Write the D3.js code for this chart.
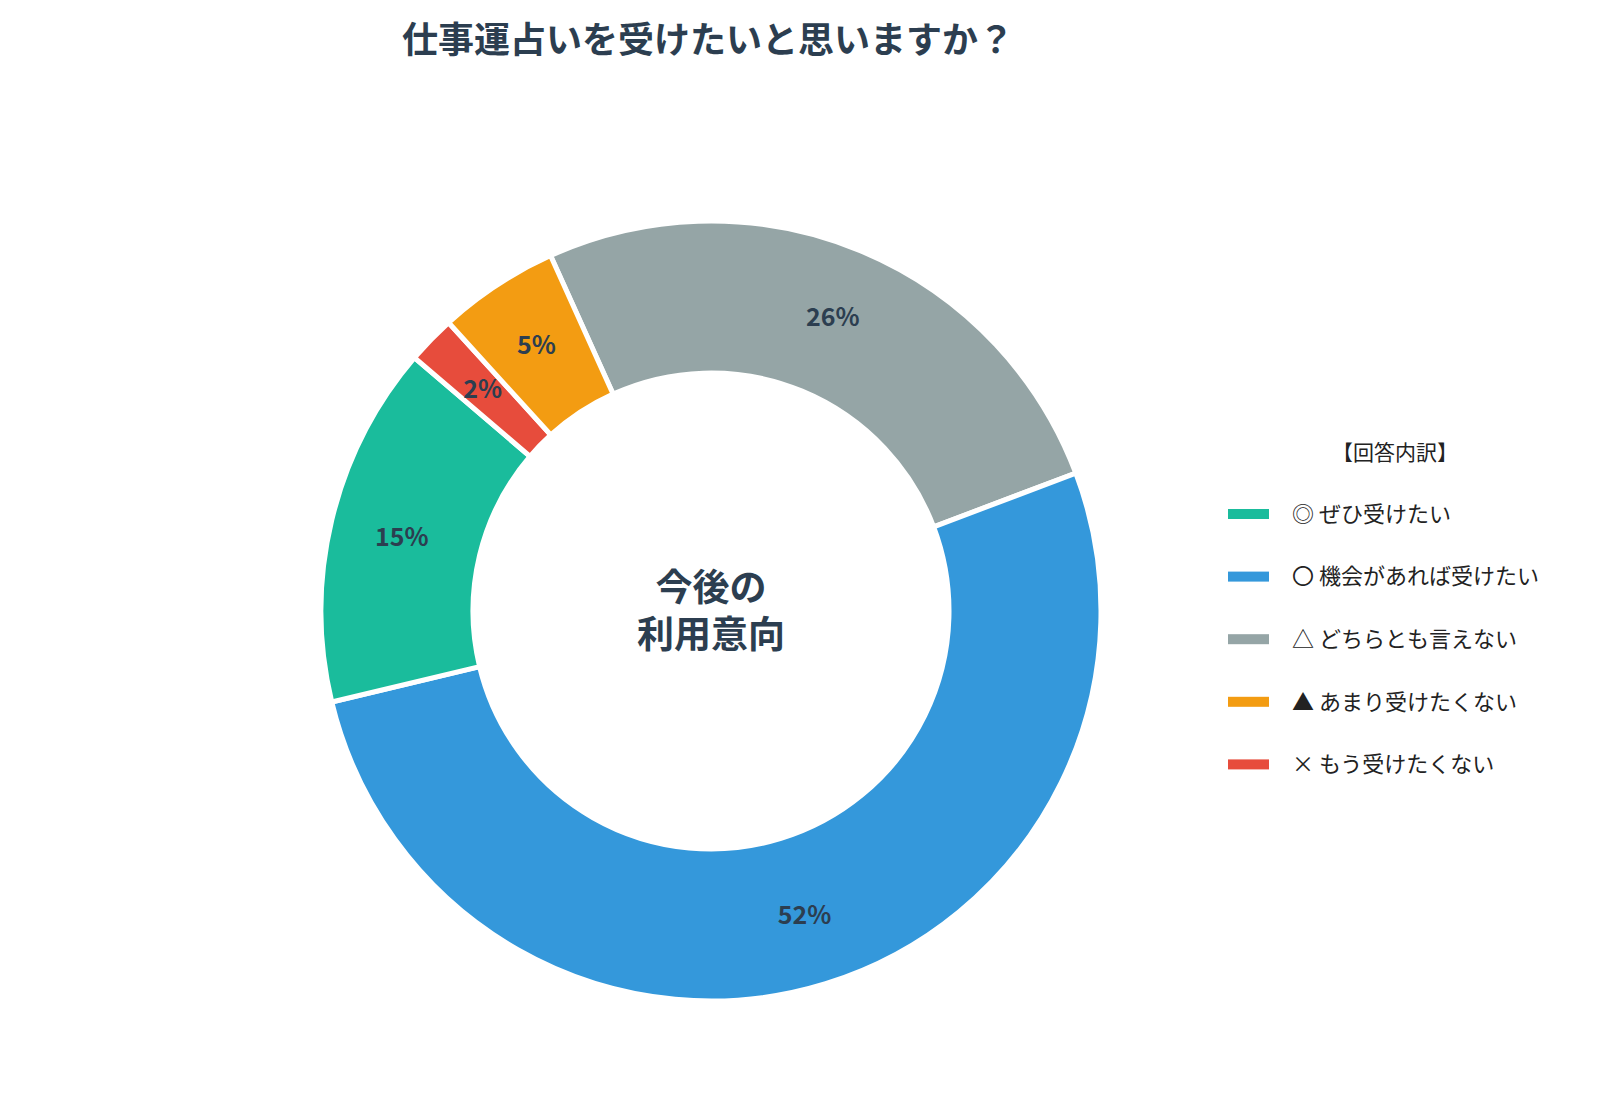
<!DOCTYPE html>
<html><head><meta charset="utf-8">
<script src="https://cdn.jsdelivr.net/npm/d3@7"></script>
<style>body{margin:0;background:#fff}</style>
</head><body>
<svg id="chart"></svg>
<script>
const categories = ["△ どちらとも言えない", "〇 機会があれば受けたい", "◎ ぜひ受けたい", "× もう受けたくない", "▲ あまり受けたくない"];
const values = [26, 52, 15, 2, 5];
const colors = ["#95a5a6", "#3498db", "#1abc9c", "#e74c3c", "#f39c12"];
const legendOrder = [2, 1, 0, 4, 3];

const width = 1600, height = 1120;
const font = "'Noto Sans CJK JP', 'Noto Sans', sans-serif";
const dark = "#2c3e50";
const cx = 711, cy = 611, outerR = 390, innerR = 238;

const svg = d3.select("#chart").attr("width", width).attr("height", height)
    .style("font-family", font);

svg.append("text").attr("x", 708).attr("y", 53).attr("text-anchor", "middle")
    .attr("font-size", 36).attr("font-weight", "bold").attr("fill", dark)
    .text("仕事運占いを受けたいと思いますか？");

const start = -24.3 * Math.PI / 180;
const pie = d3.pie().sort(null).startAngle(start).endAngle(start + 2 * Math.PI);
const arcs = pie(values);
const arc = d3.arc().innerRadius(innerR).outerRadius(outerR);
const labelArc = d3.arc().innerRadius(318).outerRadius(318);

const g = svg.append("g").attr("transform", `translate(${cx}, ${cy})`);
g.selectAll("path").data(arcs).enter().append("path")
    .attr("d", arc)
    .attr("fill", (d, i) => colors[i])
    .attr("stroke", "#fff").attr("stroke-width", 5);

g.selectAll(".lbl").data(arcs).enter().append("text")
    .attr("transform", d => `translate(${labelArc.centroid(d)})`)
    .attr("text-anchor", "middle").attr("dy", "0.35em")
    .attr("font-size", 25).attr("font-weight", "bold").attr("fill", dark)
    .text(d => d.data + "%");

g.append("text").attr("text-anchor", "middle").attr("y", -10)
    .attr("font-size", 37).attr("font-weight", "bold").attr("fill", dark).text("今後の");
g.append("text").attr("text-anchor", "middle").attr("y", 37)
    .attr("font-size", 37).attr("font-weight", "bold").attr("fill", dark).text("利用意向");

const legend = svg.append("g");
legend.append("text").attr("x", 1395).attr("y", 460).attr("text-anchor", "middle")
    .attr("font-size", 21).attr("fill", "#222").text("【回答内訳】");
legendOrder.forEach((k, j) => {
    const y = 514 + j * 62.6;
    legend.append("rect").attr("x", 1228).attr("y", y - 5).attr("width", 41).attr("height", 10)
        .attr("fill", colors[k]);
    legend.append("text").attr("x", 1292).attr("y", y).attr("dy", "0.35em")
        .attr("font-size", 22).attr("fill", "#222").text(categories[k]);
});
</script>
</body></html>
